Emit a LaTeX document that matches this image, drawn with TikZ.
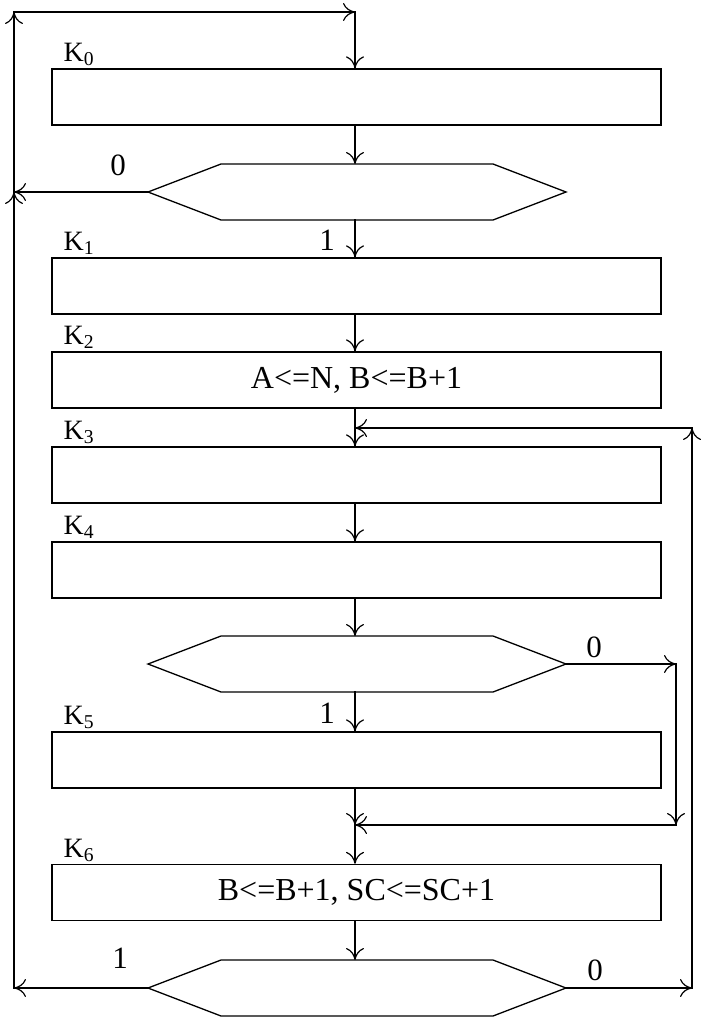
\documentclass[tikz,border=0pt]{standalone}
\usepackage{fontspec}
\setmainfont{Liberation Serif}
\usetikzlibrary{arrows.meta}
\begin{document}
\begin{tikzpicture}[x=1pt,y=-1pt,
  line width=1.3pt, line cap=rect,
  tip/.style={-{Computer Modern Rightarrow[length=12pt,width=18pt,line width=1.2pt]}},
  box/.style={draw, rectangle, minimum width=609pt, minimum height=56pt, inner sep=0pt, font=\fontsize{32}{32}\selectfont},
  hexframe/.style={rectangle, minimum width=418pt, minimum height=56pt, inner sep=0pt, outer sep=0pt},
  klabel/.style={anchor=base west, inner sep=0pt, font=\fontsize{28}{28}\selectfont},
  blabel/.style={inner sep=0pt, font=\fontsize{31}{31}\selectfont}
]
\useasboundingbox (0,0) rectangle (701,1020);
\coordinate (mx) at (355,0);

% boxes
\node[box] (k0) at (356.5,97) {};
\node[box] (k1) at (356.5,286) {};
\node[box] (k2) at (356.5,380) {A<=N, B<=B+1};
\node[box] (k3) at (356.5,475) {};
\node[box] (k4) at (356.5,570) {};
\node[box] (k5) at (356.5,760) {};
\node[box] (k6) at (356.5,892.5) {B<=B+1, SC<=SC+1};

% hexagons
\node[hexframe] (h1) at (357,192) {};
\node[hexframe] (h2) at (357,664) {};
\node[hexframe] (h3) at (357,988) {};
\foreach \h in {h1,h2,h3}
  \draw (\h.west) -- ([xshift=73pt]\h.north west) -- ([xshift=-73pt]\h.north east)
        -- (\h.east) -- ([xshift=-73pt]\h.south east) -- ([xshift=73pt]\h.south west) -- cycle;

% labels
\node[klabel] (lk0) at (63,61)  {K\textsubscript{0}};
\node[klabel] (lk1) at (63,250) {K\textsubscript{1}};
\node[klabel] (lk2) at (63,344) {K\textsubscript{2}};
\node[klabel] (lk3) at (63,439) {K\textsubscript{3}};
\node[klabel] (lk4) at (63,534) {K\textsubscript{4}};
\node[klabel] (lk5) at (63,724) {K\textsubscript{5}};
\node[klabel] (lk6) at (63,857) {K\textsubscript{6}};

\node[blabel] (l0a) at (118,165) {0};
\node[blabel] (l1a) at (327,240) {1};
\node[blabel] (l0b) at (594,647) {0};
\node[blabel] (l1b) at (327,713) {1};
\node[blabel] (l1c) at (120,958) {1};
\node[blabel] (l0c) at (595,970) {0};

% junction coordinates
\coordinate (jL) at (14,192);
\coordinate (tl) at (14,12);
\coordinate (tr) at (355,12);
\coordinate (bl) at (14,988);
\coordinate (br) at (692,988);
\coordinate (rr) at (692,428);
\coordinate (j3) at (355,428);
\coordinate (r2) at (676,664);
\coordinate (r2b) at (676,825);
\coordinate (j6) at (355,825);

% connectors
\draw[tip] (h1.west) -- (jL);
\draw[tip] (bl) -- (jL);
\draw[tip] (jL) -- (tl);
\draw[tip] (tl) -- (tr);
\draw[tip] (tr) -- (k0.north -| mx);
\draw[tip] (k0.south -| mx) -- (h1.north -| mx);
\draw[tip] (h1.south -| mx) -- (k1.north -| mx);
\draw[tip] (k1.south -| mx) -- (k2.north -| mx);
\draw[tip] (k2.south -| mx) -- (k3.north -| mx);
\draw[tip] (k3.south -| mx) -- (k4.north -| mx);
\draw[tip] (k4.south -| mx) -- (h2.north -| mx);
\draw[tip] (h2.south -| mx) -- (k5.north -| mx);
\draw[tip] (h2.east) -- (r2);
\draw[tip] (r2) -- (r2b);
\draw[tip] (r2b) -- (j6);
\draw[tip] (k5.south -| mx) -- (j6);
\draw[tip] (j6) -- (k6.north -| mx);
\draw[tip] (k6.south -| mx) -- (h3.north -| mx);
\draw[tip] (h3.west) -- (bl);
\draw[tip] (h3.east) -- (br);
\draw[tip] (br) -- (rr);
\draw[tip] (rr) -- (j3);
\end{tikzpicture}
\end{document}
